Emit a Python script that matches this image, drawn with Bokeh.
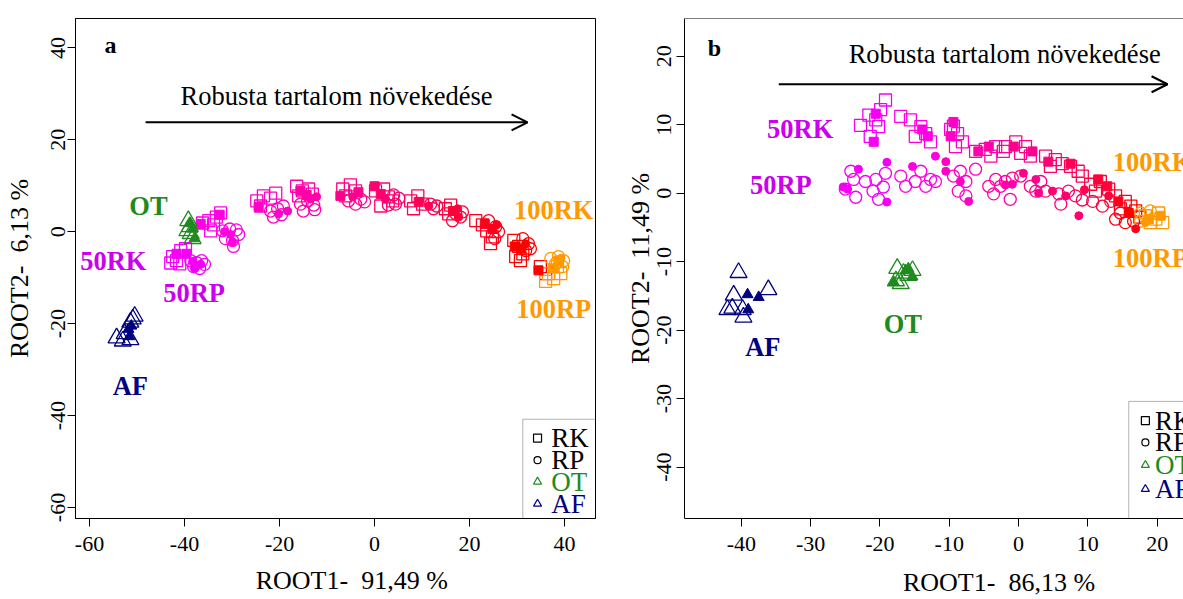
import math
from bokeh.plotting import figure
from bokeh.layouts import row
from bokeh.models import FixedTicker, Label, Arrow, OpenHead, BoxAnnotation, Span, PrintfTickFormatter
from bokeh.embed import file_html
from bokeh.resources import INLINE

# ---------------- data ----------------
LEVELS = [50, 55, 60, 65, 70, 75, 80, 85, 90, 95, 100]
LEVEL_COLORS = ["#F400F4", "#FF00E3", "#FF00C6", "#FF00AA", "#FF008E", "#FF0071",
                "#FF0055", "#FF0039", "#FF001C", "#FF0000", "#FF9900"]
GROUP_COLORS = {"OT": "#1E8B1E", "AF": "#000080"}

# panel a  (level, ROOT1, ROOT2)
a_rk_open = [(50, -42.5, -5.4), (50, -41.7, -6.3), (50, -40.8, -4.1), (50, -39.8, -3.7), (50, -42.9, -6.8), (50, -41.0, -7.0),
             (55, -36.2, 1.9), (55, -34.9, 2.4), (55, -33.9, 1.5), (55, -33.3, 3.2), (55, -32.4, 4.1), (55, -34.5, 0.2),
             (60, -24.8, 6.7), (60, -23.4, 7.8), (60, -21.9, 7.3), (60, -20.8, 8.4), (60, -24.0, 5.6),
             (65, -16.4, 9.9), (65, -15.2, 8.9), (65, -16.0, 7.8), (65, -13.9, 9.3), (65, -13.1, 8.2),
             (70, -6.7, 9.3), (70, -5.1, 10.2), (70, -4.0, 8.9), (70, -6.1, 7.8),
             (75, 0.2, 8.9), (75, 1.9, 9.3), (75, 2.9, 7.6), (75, 1.3, 5.6), (75, 3.8, 6.7),
             (80, 7.6, 6.7), (80, 9.1, 7.8), (80, 10.1, 6.0), (80, 8.2, 5.0),
             (85, 14.9, 5.0), (85, 16.0, 5.8), (85, 15.6, 3.9),
             (90, 21.3, 2.4), (90, 22.7, 1.5), (90, 23.6, 0.2), (90, 24.8, -1.1), (90, 24.4, -2.6),
             (95, 29.3, -1.9), (95, 30.3, -3.2), (95, 31.2, -4.8), (95, 29.7, -5.4), (95, 30.7, -6.3), (95, 34.9, -7.6), (95, 36.0, -9.1),
             (100, 36.6, -9.1), (100, 37.7, -10.2), (100, 39.2, -9.1), (100, 38.5, -7.6), (100, 36.0, -10.8)]
a_rk_fill = [(50, -41.7, -4.8), (50, -39.6, -4.8), (55, -36.6, 1.7), (55, -32.6, 3.7), (60, -24.4, 5.4),
             (65, -15.6, 8.9), (65, -14.3, 8.0), (70, -7.2, 7.8), (70, -3.4, 8.6), (75, 0.0, 9.9), (75, 1.3, 8.2),
             (80, 9.3, 6.5), (85, 16.5, 4.5), (90, 23.2, 1.7), (90, 24.8, 0.6), (95, 29.5, -3.2), (95, 30.9, -3.7),
             (95, 34.5, -8.4), (100, 37.5, -8.0), (100, 38.7, -6.3)]
a_rp_open = [(50, -38.7, -6.3), (50, -37.5, -6.7), (50, -36.4, -6.3), (50, -35.8, -7.1), (50, -38.1, -7.6), (50, -36.8, -8.0),
             (55, -32.0, 0.2), (55, -30.5, 0.6), (55, -29.1, 0.4), (55, -31.4, -1.5), (55, -29.9, -1.9), (55, -28.6, -0.6), (55, -29.7, -3.2),
             (60, -21.9, 4.5), (60, -20.4, 5.0), (60, -19.2, 5.6), (60, -21.3, 3.2), (60, -19.6, 3.7),
             (65, -15.6, 6.0), (65, -14.1, 6.7), (65, -12.8, 5.8), (65, -15.0, 4.5), (65, -12.6, 4.8),
             (70, -2.9, 7.1), (70, -2.1, 6.5), (70, -4.0, 6.0), (70, -5.5, 6.7),
             (75, 4.0, 8.0), (75, 5.1, 7.3), (75, 4.4, 6.0), (75, 2.9, 5.8),
             (80, 11.8, 6.0), (80, 13.1, 5.6), (80, 12.4, 5.0),
             (85, 17.1, 3.9), (85, 18.1, 3.2), (85, 16.4, 2.4), (85, 18.5, 4.3),
             (90, 24.0, 2.4), (90, 25.5, 1.1), (90, 26.1, 0.0), (90, 25.3, -1.5),
             (95, 31.2, -1.5), (95, 32.4, -2.6), (95, 32.8, -3.7), (95, 31.8, -4.1),
             (100, 37.1, -5.8), (100, 38.1, -6.9), (100, 39.6, -7.6), (100, 38.7, -5.4), (100, 39.8, -6.3)]
a_rp_fill = [(50, -38.3, -6.5), (50, -37.9, -8.0), (50, -36.6, -7.1), (55, -31.6, 0.0), (55, -30.3, -0.6), (55, -29.9, -2.2),
             (60, -20.2, 3.9), (60, -18.3, 4.5), (65, -13.5, 7.1), (65, -12.2, 7.6), (70, -4.6, 7.6), (75, 2.3, 7.1),
             (80, 11.4, 5.6), (85, 17.5, 5.0), (85, 17.7, 3.2), (90, 25.7, 1.5), (95, 31.8, -2.6),
             (100, 39.2, -5.8), (100, 38.1, -8.0)]
a_ot_open = [(-39.2, 2.4), (-38.9, 1.1), (-38.7, -0.4), (-38.3, -1.5), (-39.4, 0.2)]
a_ot_fill = [(-38.3, 0.6), (-37.9, -1.5), (-38.8, 1.8)]
a_af_open = [(-50.5, -18.4), (-50.9, -19.0), (-51.4, -19.7), (-54.3, -23.1), (-52.6, -22.2), (-51.4, -23.5), (-53.0, -23.8)]
a_af_fill = [(-51.8, -21.2), (-51.6, -22.8), (-51.2, -20.5)]

# panel b
b_rk_open = [(50, -22.8, 9.9), (50, -21.6, 11.4), (50, -20.6, 10.7), (50, -20.2, 9.7), (50, -21.4, 8.3), (50, -19.2, 13.6), (50, -19.9, 12.2),
             (55, -17.0, 11.2), (55, -15.6, 10.7), (55, -14.1, 9.7), (55, -13.4, 8.7), (55, -14.9, 8.3), (55, -12.7, 7.5),
             (60, -9.8, 9.3), (60, -8.8, 8.7), (60, -8.1, 7.5), (60, -9.1, 6.8), (60, -9.4, 9.8),
             (65, -6.2, 6.1), (65, -4.8, 6.4), (65, -3.3, 6.8), (65, -4.0, 5.4), (65, -2.2, 6.1),
             (70, -1.9, 6.8), (70, -0.4, 7.5), (70, 1.0, 6.8), (70, 1.7, 5.4), (70, 0.3, 5.8),
             (75, 3.9, 5.4), (75, 5.3, 4.9), (75, 6.3, 4.3), (75, 4.6, 3.9),
             (80, 7.5, 3.9), (80, 8.6, 3.2), (80, 9.2, 2.5),
             (85, 10.4, 1.3), (85, 11.8, 1.7), (85, 13.0, 0.6), (85, 11.1, 0.3),
             (90, 14.0, -0.4), (90, 15.4, -1.2), (90, 14.7, -2.3),
             (95, 16.2, -1.9), (95, 16.9, -2.6), (95, 17.5, -3.5),
             (100, 18.3, -3.3), (100, 19.8, -3.8), (100, 20.8, -4.3), (100, 19.0, -4.3), (100, 20.2, -2.9)]
b_rk_fill = [(50, -20.6, 11.6), (50, -20.9, 7.5), (55, -13.9, 9.3), (55, -13.1, 8.3), (60, -9.8, 8.3), (60, -9.4, 10.4),
             (65, -5.8, 6.1), (65, -4.3, 6.8), (70, -0.7, 6.8), (70, 2.0, 6.1), (75, 4.3, 4.6), (80, 7.5, 4.3),
             (85, 11.5, 2.0), (85, 12.8, 1.0), (90, 14.4, -1.2), (95, 15.9, -2.9), (100, 18.8, -3.8), (100, 20.5, -3.3)]
b_rp_open = [(50, -24.2, 3.2), (50, -23.8, 2.0), (50, -25.0, 0.6), (50, -23.5, -0.6), (50, -22.1, 1.7), (50, -20.6, 2.0),
             (50, -19.2, 2.9), (50, -21.0, 0.3), (50, -19.5, 0.9), (50, -20.2, -0.9),
             (55, -17.0, 2.5), (55, -16.3, 1.0), (55, -14.9, 1.7), (55, -14.1, 3.2), (55, -13.4, 1.0), (55, -12.7, 2.0), (55, -12.0, 1.7),
             (60, -9.4, 2.5), (60, -8.4, 3.2), (60, -7.6, 1.7), (60, -8.7, 0.3), (60, -7.6, -0.4), (60, -6.2, 3.5),
             (65, -4.3, 1.0), (65, -3.3, 2.0), (65, -2.6, 1.0), (65, -1.9, 1.7), (65, -3.6, -0.1), (65, -1.2, -0.9),
             (70, -0.9, 2.2), (70, 0.3, 2.5), (70, 1.7, 1.0), (70, 3.2, 1.7), (70, 2.5, 0.3),
             (75, 3.9, 0.3), (75, 5.8, -0.1), (75, 7.2, 0.3), (75, 6.1, -1.6),
             (80, 8.2, -0.4), (80, 9.2, -1.0),
             (85, 10.7, -1.2), (85, 12.1, -1.9), (85, 13.3, -1.2),
             (90, 14.0, -3.8), (90, 14.7, -2.9), (95, 15.4, -4.3), (95, 16.6, -4.1),
             (100, 17.6, -2.9), (100, 19.0, -2.6), (100, 17.6, -4.1)]
b_rp_fill = [(50, -25.3, 0.9), (50, -24.7, 0.6), (50, -23.1, 3.5), (50, -19.0, 4.5), (50, -19.0, -1.3),
             (55, -15.3, 3.9), (55, -12.0, 5.4), (60, -8.4, 1.7), (60, -7.2, -1.2), (60, -10.5, 4.6), (60, -10.5, 3.2),
             (65, -1.9, 1.2), (65, -0.9, 1.3), (70, 0.7, 2.9), (70, 2.5, 2.0), (70, 2.9, 0.0),
             (75, 4.9, 0.3), (75, 6.8, -0.4), (75, 8.7, -3.3), (80, 9.5, 0.5), (85, 13.0, -0.4),
             (90, 16.9, -5.2), (100, 18.3, -4.3)]
b_ot_open = [(-17.5, -11.0), (-16.6, -11.7), (-17.7, -12.8), (-15.9, -12.0), (-17.0, -13.2), (-15.3, -11.3)]
b_ot_fill = [(-16.3, -11.3), (-15.3, -12.2), (-18.0, -13.0), (-15.9, -11.0)]
b_af_open = [(-40.4, -11.6), (-41.1, -14.9), (-36.1, -14.1), (-42.0, -17.0), (-39.8, -17.0), (-39.7, -18.1), (-41.3, -16.8)]
b_af_fill = [(-39.1, -14.8), (-37.5, -15.2), (-39.0, -17.0)]

LEGEND_ITEMS = ["RK", "RP", "OT", "AF"]
LEGEND_MARKERS = ["square", "circle", "triangle", "triangle"]
LEGEND_COLORS = ["black", "black", GROUP_COLORS["OT"], GROUP_COLORS["AF"]]

FONT = "Liberation Serif"
NB = "\u00a0"


def level_color(lv):
    return LEVEL_COLORS[LEVELS.index(lv)]


def add_levels(p, pts, marker, size, filled):
    xs = [t[1] for t in pts]
    ys = [t[2] for t in pts]
    cs = [level_color(t[0]) for t in pts]
    if filled:
        p.scatter(xs, ys, marker=marker, size=size, fill_color=cs, line_color=cs, line_width=1)
    else:
        p.scatter(xs, ys, marker=marker, size=size, fill_color=None, line_color=cs, line_width=1.3)


def add_group(p, pts, color, size, filled):
    xs = [t[0] for t in pts]
    ys = [t[1] for t in pts]
    if filled:
        p.scatter(xs, ys, marker="triangle", size=size, fill_color=color, line_color=color, line_width=1)
    else:
        p.scatter(xs, ys, marker="triangle", size=size, fill_color=None, line_color=color, line_width=1.3)


def make_panel(width, xr, yr, xticks, yticks, borders, outline, xlabel, ylabel,
               ystd, ylab_std, xstd, xlab_std):
    p = figure(width=width, height=599, x_range=xr, y_range=yr,
               output_backend="svg", toolbar_location=None,
               min_border_left=borders[0], min_border_right=borders[1],
               min_border_top=borders[2], min_border_bottom=borders[3])
    p.grid.visible = False
    p.background_fill_color = "white"
    p.border_fill_color = "white"
    p.outline_line_color = "black" if outline else None
    p.outline_line_width = 1
    p.xaxis.ticker = FixedTicker(ticks=xticks)
    p.yaxis.ticker = FixedTicker(ticks=yticks)
    for ax in (p.xaxis, p.yaxis):
        ax.formatter = PrintfTickFormatter(format="%d")
        ax.minor_tick_line_color = None
        ax.major_tick_out = 8
        ax.major_tick_in = 0
        ax.axis_line_color = "black"
        ax.major_tick_line_color = "black"
        ax.major_label_text_font = FONT
        ax.major_label_text_font_size = "22px"
        ax.major_label_text_color = "black"
        ax.axis_label_text_font = FONT
        ax.axis_label_text_font_size = "26px"
        ax.axis_label_text_font_style = "normal"
        ax.axis_label_text_color = "black"
    p.xaxis.axis_label = xlabel
    p.yaxis.axis_label = ylabel
    p.xaxis.major_label_standoff = xstd
    p.xaxis.axis_label_standoff = xlab_std
    p.yaxis.major_label_standoff = ystd
    p.yaxis.axis_label_standoff = ylab_std
    p.yaxis.major_label_orientation = "vertical"
    return p


def txt(p, x, y, s, size, color="black", bold=False, align="center", angle=0.0):
    p.add_layout(Label(x=x, y=y, text=s, text_font=FONT, text_font_size=size,
                       text_font_style="bold" if bold else "normal", text_color=color,
                       text_align=align, text_baseline="middle", angle=angle))


def draw_data(p, rk_open, rk_fill, rp_open, rp_fill, ot_open, ot_fill, af_open, af_fill):
    add_levels(p, rk_open, "square", 12, False)
    add_levels(p, rp_open, "circle", 12, False)
    add_levels(p, rk_fill, "square", 9, True)
    add_levels(p, rp_fill, "circle", 8, True)
    add_group(p, ot_open, GROUP_COLORS["OT"], 17, False)
    add_group(p, ot_fill, GROUP_COLORS["OT"], 11, True)
    add_group(p, af_open, GROUP_COLORS["AF"], 17, False)
    add_group(p, af_fill, GROUP_COLORS["AF"], 11, True)


def draw_legend(p, box, sym_x, txt_x, rows):
    p.add_layout(BoxAnnotation(left=box[0], right=box[1], top=box[2], bottom=box[3],
                               fill_alpha=0, line_color="black", line_width=1))
    for name, mk, col, yy in zip(LEGEND_ITEMS, LEGEND_MARKERS, LEGEND_COLORS, rows):
        p.scatter([sym_x], [yy], marker=mk, size=8 if mk != "circle" else 7,
                  fill_color=None, line_color=col, line_width=1.2)
        txt(p, txt_x, yy, name, "27px", col, align="left")


# ---------------- panel a ----------------
pa = make_panel(620, (-62.95, 46.5), (-62.4, 46.4), [-60, -40, -20, 0, 20, 40],
                [-60, -40, -20, 0, 20, 40], (75, 25, 18, 77), True,
                NB * 5 + "ROOT1-" + NB + " 91,49 %", "ROOT2-" + NB + " 6,13 %", 2, 15, 10, 12)
draw_data(pa, a_rk_open, a_rk_fill, a_rp_open, a_rp_fill, a_ot_open, a_ot_fill, a_af_open, a_af_fill)
draw_legend(pa, (31.2, 46.5, -40.8, -62.4), 34.3, 37.2, [-44.9, -49.7, -54.4, -59.2])
pa.add_layout(Arrow(end=OpenHead(size=16, line_width=2, line_color="black"),
                    x_start=-48.2, y_start=23.8, x_end=32.2, y_end=23.8,
                    line_width=2, line_color="black"))
txt(pa, -8.0, 29.6, "Robusta tartalom növekedése", "26.5px")
txt(pa, -55.6, 40.6, "a", "24px", bold=True)
txt(pa, -47.6, 5.6, "OT", "26.5px", GROUP_COLORS["OT"], bold=True)
txt(pa, -55.0, -6.3, "50RK", "26.5px", "#CC00EE", bold=True)
txt(pa, -38.0, -13.4, "50RP", "26.5px", "#CC00EE", bold=True)
txt(pa, -51.4, -33.5, "AF", "26.5px", GROUP_COLORS["AF"], bold=True)
txt(pa, 37.7, 4.75, "100RK", "26.5px", "#FF9900", bold=True)
txt(pa, 37.7, -16.8, "100RP", "26.5px", "#FF9900", bold=True)

# ---------------- panel b ----------------
pb = make_panel(563, (-48.2, 23.8), (-47.5, 25.5), [-40, -30, -20, -10, 0, 10, 20],
                [-40, -30, -20, -10, 0, 10, 20], (64, 0, 16, 79), False,
                NB * 20 + "ROOT1-" + NB + " 86,13 %", "ROOT2-" + NB + " 11,49 %", 5, 0, 10, 14)
pb.add_layout(Span(location=25.5, dimension="width", line_color="black", line_width=1))
draw_data(pb, b_rk_open, b_rk_fill, b_rp_open, b_rp_fill, b_ot_open, b_ot_fill, b_af_open, b_af_fill)
draw_legend(pb, (15.9, 40.0, -30.4, -47.5), 18.3, 19.7, [-33.2, -36.4, -39.7, -43.2])
pb.add_layout(Arrow(end=OpenHead(size=16, line_width=2, line_color="black"),
                    x_start=-34.6, y_start=15.9, x_end=21.5, y_end=15.9,
                    line_width=2, line_color="black"))
txt(pb, -2.0, 20.3, "Robusta tartalom növekedése", "26.5px")
txt(pb, -43.9, 21.2, "b", "24px", bold=True)
txt(pb, -31.5, 9.4, "50RK", "26.5px", "#CC00EE", bold=True)
txt(pb, -34.3, 1.2, "50RP", "26.5px", "#CC00EE", bold=True)
txt(pb, -16.7, -19.1, "OT", "26.5px", GROUP_COLORS["OT"], bold=True)
txt(pb, -36.9, -22.5, "AF", "26.5px", GROUP_COLORS["AF"], bold=True)
txt(pb, 13.6, 4.5, "100RK", "26.5px", "#FF9900", bold=True, align="left")
txt(pb, 13.6, -9.4, "100RP", "26.5px", "#FF9900", bold=True, align="left")

layout = row(pa, pb)
open("out.html", "w").write(file_html(layout, INLINE))
